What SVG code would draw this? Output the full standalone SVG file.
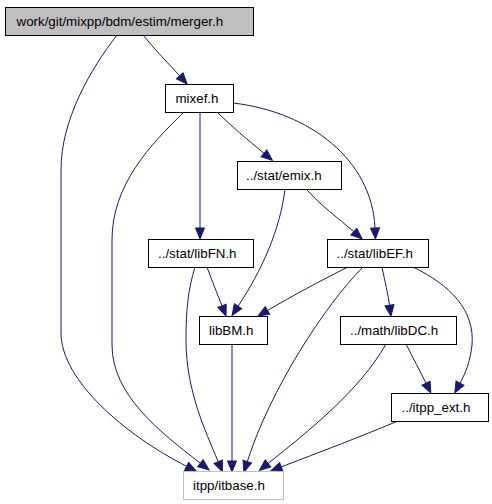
<svg xmlns="http://www.w3.org/2000/svg" width="492" height="504" viewBox="0 0 492 504">
<style>
.node rect{fill:#ffffff;stroke:#000000;stroke-width:1}
#n_merger rect{fill:#bfbfbf}
#n_itbase rect{stroke:#bfbfbf}
.node text{font-family:"Liberation Sans",Arial,sans-serif;font-size:13.33px;fill:#000000}
.edges path{fill:none;stroke:#191970;stroke-width:1;marker-end:url(#arr)}
</style>
<defs>
<marker id="arr" markerUnits="userSpaceOnUse" markerWidth="13" markerHeight="11" refX="0" refY="4.5" orient="auto" overflow="visible">
<path d="M0,0 L11,4.5 L0,9 z" fill="#191970" stroke="#191970" stroke-width="1"/>
</marker>
</defs>
<rect x="0" y="0" width="492" height="504" fill="#ffffff"/>
<g class="edges" id="edges">
<path d="M143,35 C155,50 168,63 179.7,75.8"/>
<path d="M117,35 C90,70 61,120 61,170 L61,333 C61,380 125,435 186.6,466.3"/>
<path d="M184,112 C150,145 112,185 112,240 L112,345 C112,395 160,432 200.4,463.2"/>
<path d="M200,112 L200,228"/>
<path d="M217,112 C230,125 248,140 264,153.4"/>
<path d="M233,103 C310,112 372,160 375,228"/>
<path d="M285,189 C280,230 262,270 238.1,306.2"/>
<path d="M306,189 C320,205 338,218 353.8,231.7"/>
<path d="M207,267 C212,281 217,293 222,305.8"/>
<path d="M195,267 C188,290 186,310 186,340 C186,390 205,430 218.2,461.7"/>
<path d="M348,267 C320,281 292,296 267.5,310.5"/>
<path d="M363,267 C325,305 270,390 247.3,461.6"/>
<path d="M382,267 C385,282 388,294 389.5,305.2"/>
<path d="M413,267 C450,285 475,310 472,345 C470,362 466,372 460,383.2"/>
<path d="M232,344 L232,461"/>
<path d="M386,344 C360,390 310,430 268,463.5"/>
<path d="M406,344 C413,358 420,371 426,383.2"/>
<path d="M398,421 C360,437 320,452 281.2,466.9"/>
</g>
<g class="node" id="n_merger"><rect x="5.5" y="7.5" width="248" height="28"/><text x="16.5" y="26">work/git/mixpp/bdm/estim/merger.h</text></g>
<g class="node" id="n_mixef"><rect x="165.5" y="84.5" width="68" height="28"/><text x="175.5" y="103">mixef.h</text></g>
<g class="node" id="n_emix"><rect x="237.5" y="161.5" width="104" height="28"/><text x="246" y="180">../stat/emix.h</text></g>
<g class="node" id="n_libFN"><rect x="148.5" y="239.5" width="105" height="28"/><text x="158" y="258">../stat/libFN.h</text></g>
<g class="node" id="n_libEF"><rect x="327.5" y="239.5" width="101" height="28"/><text x="336.5" y="258">../stat/libEF.h</text></g>
<g class="node" id="n_libBM"><rect x="199.5" y="316.5" width="68" height="28"/><text x="209" y="335">libBM.h</text></g>
<g class="node" id="n_libDC"><rect x="340.5" y="316.5" width="116" height="28"/><text x="350" y="335">../math/libDC.h</text></g>
<g class="node" id="n_itppext"><rect x="391.5" y="393.5" width="97" height="28"/><text x="401.5" y="412">../itpp_ext.h</text></g>
<g class="node" id="n_itbase"><rect x="183.5" y="471.5" width="100" height="28"/><text x="193" y="490">itpp/itbase.h</text></g>
</svg>
